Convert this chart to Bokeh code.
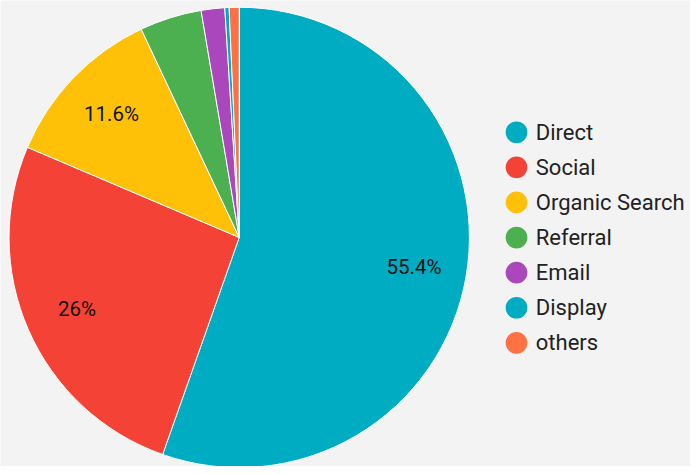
import math
from bokeh.plotting import figure
from bokeh.models import Range1d, ColumnDataSource
from bokeh.core.properties import value
from bokeh.embed import file_html
from bokeh.resources import INLINE

categories = ["Direct", "Social", "Organic Search", "Referral", "Email", "Display", "others"]
shares = [55.4, 26.0, 11.6, 4.35, 1.65, 0.3, 0.7]
colors = ["#00ACC1", "#F44336", "#FFC107", "#4CAF50", "#AB47BC", "#00ACC1", "#FF7043"]
label_texts = ["55.4%", "26%", "11.6%", "", "", "", ""]

W, H = 690, 466
SX, SY = W / 698, H / 474
BG = "#f3f3f3"
p = figure(width=W, height=H, output_backend="svg", toolbar_location=None,
           x_range=Range1d(0, W), y_range=Range1d(0, H), min_border=0,
           background_fill_color=BG, border_fill_color=BG, outline_line_color=None)
p.axis.visible = False
p.grid.visible = False

cx, cy, R = 241.5 * SX, H - 241 * SY, 233.5 * (SX + SY) / 2
total = sum(shares)
starts, ends, lx, ly = [], [], [], []
cum = 0.0
for s in shares:
    a0 = math.pi / 2 - 2 * math.pi * cum / total
    cum += s
    a1 = math.pi / 2 - 2 * math.pi * cum / total
    starts.append(a0)
    ends.append(a1)
    mid = (a0 + a1) / 2
    lx.append(cx + 0.77 * R * math.cos(mid))
    ly.append(cy + 0.77 * R * math.sin(mid))

src = ColumnDataSource(dict(start=starts, end=ends, color=colors, cat=categories,
                            lx=lx, ly=ly, lab=label_texts))
p.wedge(x=cx, y=cy, radius=R, radius_units="screen", start_angle="start", end_angle="end",
        direction="clock", fill_color="color", line_color="white", line_width=1, source=src)
p.text(x="lx", y="ly", text="lab", source=src, text_font=value("Roboto"),
       text_font_size="20.5px", text_color="#111111", text_align="center", text_baseline="middle")

# legend
leg_y = [H - (134 + i * 35.7) * SY for i in range(len(categories))]
leg_x = [522 * SX] * len(categories)
txt_x = [541.5 * SX] * len(categories)
lsrc = ColumnDataSource(dict(x=leg_x, tx=txt_x, y=leg_y, color=colors, cat=categories))
p.scatter(x="x", y="y", size=21.7, marker="circle", fill_color="color", line_color=None, source=lsrc)
p.text(x="tx", y="y", text="cat", source=lsrc, text_font=value("Roboto"),
       text_font_size="22px", text_color="#222222", text_align="left", text_baseline="middle")

open("out.html", "w").write(file_html(p, INLINE))
